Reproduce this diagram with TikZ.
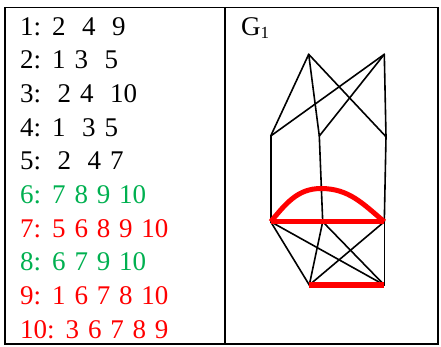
\documentclass[tikz,border=0pt]{standalone}
\usepackage{fontspec}
\setmainfont{Liberation Serif}
\usepackage{xcolor}
\usepackage{tikz}
\usetikzlibrary{positioning}
\definecolor{adjgreen}{RGB}{0,176,80}
\newcommand{\wgap}{\hspace{16.5pt}}

\begin{document}
\begin{tikzpicture}[x=1pt,y=-1pt,
  row/.style={anchor=base west,inner sep=0pt,font=\fontsize{27}{30}\selectfont,
    execute at begin node={\spaceskip=8.8pt\relax}},
  edge/.style={line width=1.6pt,line cap=round},
  redge/.style={red,line width=5.5pt}]
  \useasboundingbox (0,0) rectangle (441,346);
  % table frame
  \draw[line width=1.8pt] (5,7.5) rectangle (438,344);
  \draw[line width=1.8pt] (225,7.5) -- (225,344);
  % adjacency list
  \node[row] (r1) at (20,35) {1: 2\wgap 4\wgap 9};
  \node[row] (r2) at (20,68.7) {2: 1 3\wgap 5};
  \node[row] (r3) at (20,102.4) {3:\wgap 2 4\wgap 10};
  \node[row] (r4) at (20,136.1) {4: 1\wgap 3 5};
  \node[row] (r5) at (20,169.8) {5:\wgap 2\wgap 4 7};
  \node[row,adjgreen] (r6) at (20,203.5) {6: 7 8 9 10};
  \node[row,red] (r7) at (20,237.2) {7: 5 6 8 9 10};
  \node[row,adjgreen] (r8) at (20,270.9) {8: 6 7 9 10};
  \node[row,red] (r9) at (20,304.6) {9: 1 6 7 8 10};
  \node[row,red] (r10) at (20,338.3) {10: 3 6 7 8 9};
  % graph
  \node[row] (title) at (241,35) {G\raisebox{-3pt}{\fontsize{17}{17}\selectfont 1}};
  \coordinate (tl) at (308.7,54.3);
  \coordinate (tr) at (384.3,54.3);
  \coordinate (ml) at (270.7,136);
  \coordinate (mc) at (319.3,136);
  \coordinate (mr) at (386,136.7);
  \coordinate (ll) at (270.7,221.7);
  \coordinate (lc) at (322.7,221.7);
  \coordinate (lr) at (384.3,221.7);
  \coordinate (bl) at (309.3,285);
  \coordinate (br) at (384.3,285);
  \coordinate (top) at (321,188.5);
  \draw[edge] (tl) -- (ml); \draw[edge] (tl) -- (mc); \draw[edge] (tl) -- (mr);
  \draw[edge] (tr) -- (ml); \draw[edge] (tr) -- (mc); \draw[edge] (tr) -- (mr);
  \draw[edge] (ml) -- (ll); \draw[edge] (mc) -- (lc); \draw[edge] (mr) -- (lr);
  \draw[edge] (ll) -- (bl); \draw[edge] (ll) -- (br);
  \draw[edge] (lc) -- (bl); \draw[edge] (lc) -- (br);
  \draw[edge] (lr) -- (bl); \draw[edge] (lr) -- (br);
  \draw[redge] (ll) -- (lr);
  \draw[redge,line width=5pt] (ll) to[out=50,in=180] (top) to[out=0,in=140] (lr);
  \draw[redge] (bl) -- (br);
\end{tikzpicture}
\end{document}
